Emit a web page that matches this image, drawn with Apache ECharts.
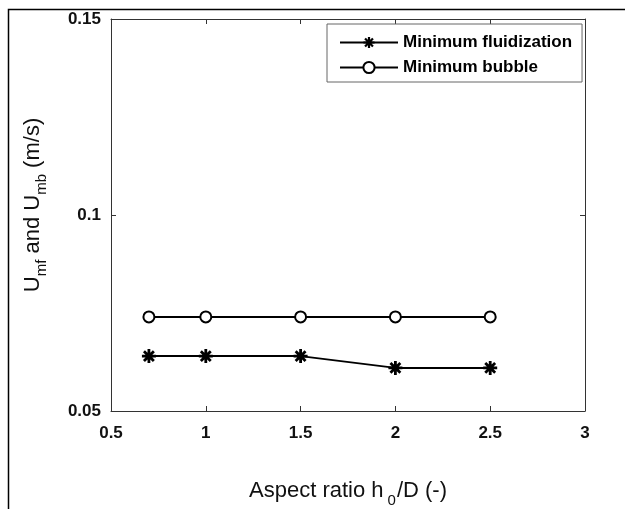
<!DOCTYPE html>
<html>
<head>
<meta charset="utf-8">
<script src="https://cdn.jsdelivr.net/npm/echarts@6/dist/echarts.min.js"></script>
<style>
  html, body { margin: 0; padding: 0; background: #fff; }
  #chart { width: 625px; height: 509px; }
</style>
</head>
<body>
<div id="chart"></div>
<script>
// data
const aspectRatio = [0.7, 1, 1.5, 2, 2.5];
const uMf = [0.064, 0.064, 0.064, 0.061, 0.061];   // minimum fluidization
const uMb = [0.074, 0.074, 0.074, 0.074, 0.074];   // minimum bubble
const seriesNames = ['Minimum fluidization', 'Minimum bubble'];
const xRange = [0.5, 3, 0.5];      // min, max, step
const yRange = [0.05, 0.15, 0.05];

const FONT = '"Liberation Sans", Arial, sans-serif';

// MATLAB-like '*' marker (8 arms)
const starPath = 'path://M8 0H12V20H8Z M0 8H20V12H0Z ' +
  'M4.34 1.51L18.48 15.66L15.66 18.48L1.51 4.34Z ' +
  'M1.51 15.66L15.66 1.51L18.48 4.34L4.34 18.48Z';

const chart = echarts.init(document.getElementById('chart'));

const axisCommon = {
  type: 'value',
  axisLine: { show: true, lineStyle: { color: '#333', width: 1 } },
  axisTick: { show: true, inside: true, length: 5, lineStyle: { color: '#333' } },
  splitLine: { show: false }
};

chart.setOption({
  animation: false,
  backgroundColor: '#fff',
  grid: { left: 111, right: 40, top: 19, height: 392, containLabel: false, outerBoundsMode: 'none' },
  legend: {
    orient: 'vertical',
    left: 327,
    top: 24,
    padding: [10, 10, 6, 12],
    itemWidth: 58,
    itemHeight: 14,
    itemGap: 8,
    borderColor: '#666',
    borderWidth: 1,
    backgroundColor: '#fff',
    textStyle: { fontFamily: FONT, fontWeight: 'bold', fontSize: 17, color: '#000' },
    data: seriesNames
  },
  xAxis: [
    Object.assign({}, axisCommon, {
      position: 'bottom',
      min: xRange[0], max: xRange[1], interval: xRange[2],
      axisLabel: { margin: 14, fontFamily: FONT, fontWeight: 'bold', fontSize: 17, color: '#111' },
      name: 'Aspect ratio h{sub|0}/D (-)',
      nameLocation: 'middle',
      nameGap: 62,
      nameTextStyle: {
        fontFamily: FONT, fontSize: 22, color: '#111',
        rich: { sub: { fontFamily: FONT, fontSize: 15, color: '#111', padding: [20, 1, 0, 4] } }
      }
    }),
    Object.assign({}, axisCommon, {
      position: 'top',
      min: xRange[0], max: xRange[1], interval: xRange[2],
      axisLabel: { show: false }
    })
  ],
  yAxis: [
    Object.assign({}, axisCommon, {
      position: 'left',
      min: yRange[0], max: yRange[1], interval: yRange[2],
      axisLabel: { margin: 10, fontFamily: FONT, fontWeight: 'bold', fontSize: 17, color: '#111' },
      name: 'U{sub|mf} and U{sub|mb} (m/s)',
      nameLocation: 'middle',
      nameGap: 62,
      nameTextStyle: {
        fontFamily: FONT, fontSize: 22, color: '#111',
        padding: [0, 0, 0, 20],
        rich: { sub: { fontFamily: FONT, fontSize: 15, color: '#111', padding: [18, 0, 0, 0] } }
      }
    }),
    Object.assign({}, axisCommon, {
      position: 'right',
      min: yRange[0], max: yRange[1], interval: yRange[2],
      axisLabel: { show: false }
    })
  ],
  series: [
    {
      name: seriesNames[0],
      type: 'line',
      data: aspectRatio.map((x, i) => [x, uMf[i]]),
      symbol: starPath,
      symbolSize: 14,
      lineStyle: { color: '#000', width: 2 },
      itemStyle: { color: '#000' }
    },
    {
      name: seriesNames[1],
      type: 'line',
      data: aspectRatio.map((x, i) => [x, uMb[i]]),
      symbol: 'emptyCircle',
      symbolSize: 11,
      lineStyle: { color: '#000', width: 2 },
      itemStyle: { color: '#000', borderWidth: 2.2 }
    }
  ],
  graphic: [
    {
      type: 'rect',
      shape: { x: 8.5, y: 9.5, width: 800, height: 800 },
      style: { fill: 'none', stroke: '#000', lineWidth: 1.5 },
      silent: true,
      z: -1
    }
  ]
});
</script>
</body>
</html>
